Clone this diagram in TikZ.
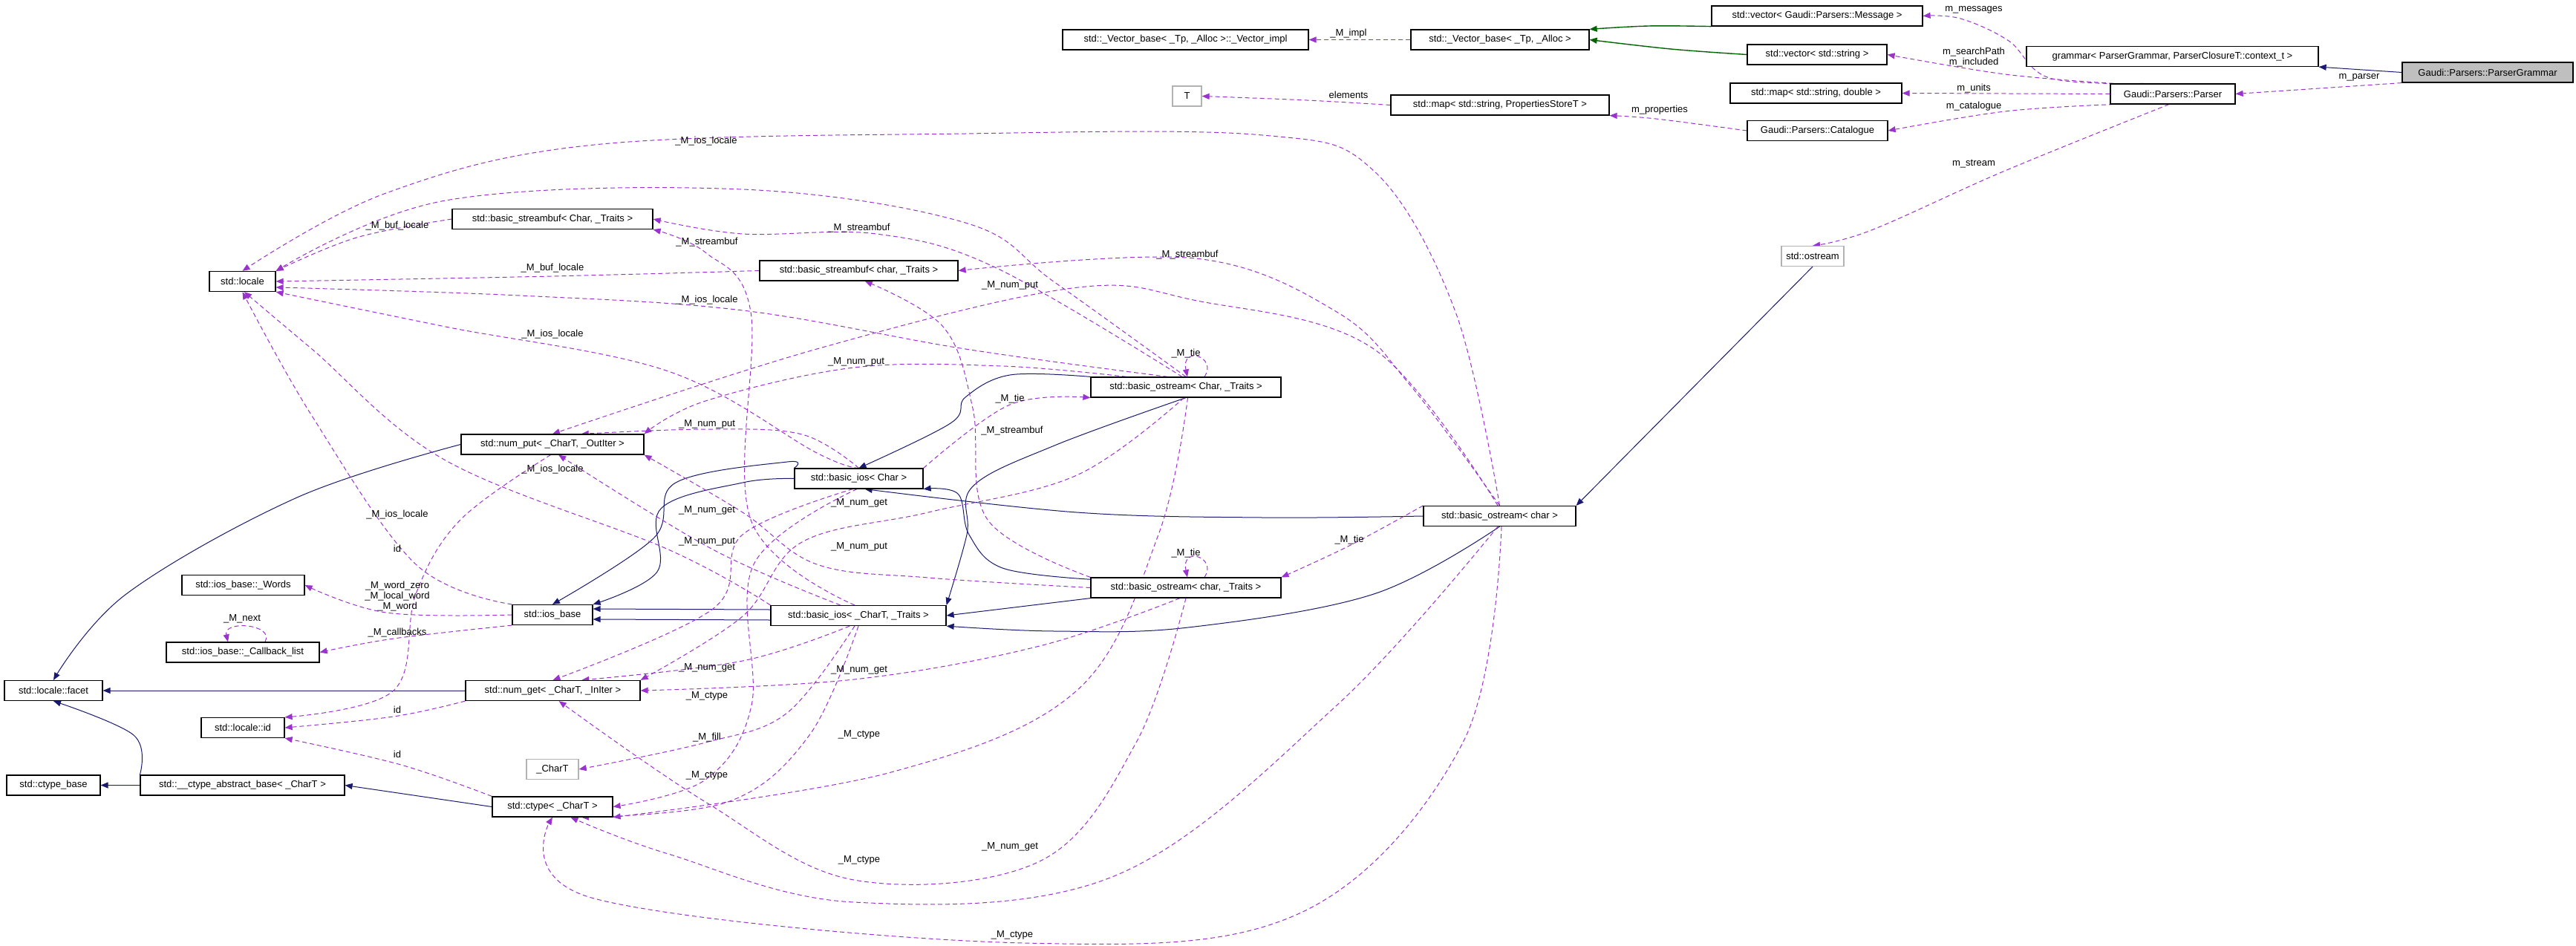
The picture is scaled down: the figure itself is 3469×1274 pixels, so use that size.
\documentclass[tikz,border=0pt]{standalone}
\usepackage{fontspec}
\setmainfont{Liberation Sans}
\usetikzlibrary{arrows.meta,calc,backgrounds}
\definecolor{dpurple}{RGB}{154,50,205}
\definecolor{dnavy}{RGB}{25,25,112}
\definecolor{dgreen}{RGB}{0,100,0}
\begin{document}
\begin{tikzpicture}[x=0.5pt,y=-0.5pt,
 box/.style={draw=black,line width=0.6pt,minimum height=13.5pt,inner sep=1pt,font=\fontsize{6.5}{7}\selectfont,fill=white},
 gbox/.style={box,draw=black!30},
 dep/.style={draw=dpurple,dash pattern=on 3pt off 2pt,line width=0.5pt,-{Triangle[length=5pt,width=4pt,fill=dpurple]}},
 inh/.style={draw=dnavy,line width=0.5pt,-{Triangle[length=5pt,width=4pt,fill=dnavy]}},
 tpl/.style={draw=dgreen,line width=0.7pt,-{Triangle[length=5pt,width=4pt,fill=dgreen]}},
 lbl/.style={font=\fontsize{6.5}{7}\selectfont,inner sep=0pt},
 sm/.style={smooth,tension=0.6}]
\useasboundingbox (0,0) rectangle (3469,1274);
% nodes
\node[box,fill=black!25,minimum width=115pt] (pg) at (3350,97.5) {Gaudi::Parsers::ParserGrammar};
\node[box,minimum width=196.5pt] (grammar) at (2925.5,76) {grammar< ParserGrammar, ParserClosureT::context\_t >};
\node[box,minimum width=84pt] (parser) at (2926,126.5) {Gaudi::Parsers::Parser};
\node[box,minimum width=142pt] (vmsg) at (2447,21.5) {std::vector< Gaudi::Parsers::Message >};
\node[box,minimum width=94pt] (vstr) at (2447,73.5) {std::vector< std::string >};
\node[box,minimum width=115.5pt] (mapd) at (2445.5,125.5) {std::map< std::string, double >};
\node[box,minimum width=94.5pt] (cat) at (2447.5,176) {Gaudi::Parsers::Catalogue};
\node[gbox,minimum width=42pt] (ostream) at (2441,345) {std::ostream};
\node[box,minimum width=120pt] (vbase) at (2020,53.5) {std::\_Vector\_base< \_Tp, \_Alloc >};
\node[box,minimum width=165.5pt] (vimpl) at (1596.5,53.5) {std::\_Vector\_base< \_Tp, \_Alloc >::\_Vector\_impl};
\node[box,minimum width=147pt] (mapp) at (2020,141.5) {std::map< std::string, PropertiesStoreT >};
\node[gbox,minimum width=19.5pt] (T) at (1598.5,129.5) {T};
\node[box,minimum width=44.5pt] (locale) at (326.5,379) {std::locale};
\node[box,minimum width=135pt] (sbChar) at (744,295) {std::basic\_streambuf< Char, \_Traits >};
\node[box,minimum width=133.5pt] (sbchar) at (1156.5,364.5) {std::basic\_streambuf< char, \_Traits >};
\node[box,minimum width=123pt] (numput) at (744,598.5) {std::num\_put< \_CharT, \_OutIter >};
\node[box,minimum width=86.5pt] (iosChar) at (1156.5,644.5) {std::basic\_ios< Char >};
\node[box,minimum width=128pt] (osCT) at (1597,521.5) {std::basic\_ostream< Char, \_Traits >};
\node[box,minimum width=102.5pt] (osc) at (2019.5,695) {std::basic\_ostream< char >};
\node[box,minimum width=128pt] (oscT) at (1597,791.5) {std::basic\_ostream< char, \_Traits >};
\node[box,minimum width=82.5pt] (words) at (327.5,788) {std::ios\_base::\_Words};
\node[box,minimum width=54pt] (iosbase) at (744,828) {std::ios\_base};
\node[box,minimum width=118pt] (iosCT) at (1156,829) {std::basic\_ios< \_CharT, \_Traits >};
\node[box,minimum width=103pt] (cb) at (327,878.5) {std::ios\_base::\_Callback\_list};
\node[box,minimum width=66pt] (facet) at (72,930) {std::locale::facet};
\node[box,minimum width=117.5pt] (numget) at (744.5,930) {std::num\_get< \_CharT, \_InIter >};
\node[box,minimum width=56pt] (lid) at (327,980) {std::locale::id};
\node[gbox,minimum width=35pt] (chart) at (744,1036) {\_CharT};
\node[box,minimum width=63pt] (ctb) at (72,1057.5) {std::ctype\_base};
\node[box,minimum width=137.5pt] (cab) at (326.5,1057.5) {std::\_\_ctype\_abstract\_base< \_CharT >};
\node[box,minimum width=81pt] (ctype) at (744,1086.5) {std::ctype< \_CharT >};

\begin{pgfonlayer}{background}
\fill[white] (0,0) rectangle (3469,1274);
% top right
\draw[inh] (pg.west) -- (grammar.south east);
\draw[dep] (pg.south west) -- (parser.east);
\draw[dep] plot[sm] coordinates {(parser.160) (2760,105) (2705,55) (2640,25) (vmsg.east)};
\draw[dep] plot[sm] coordinates {(parser.170) (2700,100) (vstr.east)};
\draw[dep] (parser.west) -- (mapd.east);
\draw[dep] plot[sm] coordinates {(parser.190) (2700,150) (cat.east)};
\draw[dep] plot[sm] coordinates {(parser.250) (2700,230) (2520,310) (ostream.north)};
\draw[dep] plot[sm] coordinates {(cat.west) (2230,160) (mapp.south east)};
\draw[dep] plot[sm] coordinates {(mapp.west) (1760,135) (T.east)};
\draw[dep] (vbase.west) -- (vimpl.east);
\draw[tpl] plot[sm] coordinates {(vmsg.south west) (2220,35) (vbase.north east)};
\draw[tpl] plot[sm] coordinates {(vstr.west) (2250,66) (vbase.east)};
\draw[inh] (ostream.south) -- (osc.north east);
% inheritance centre
\draw[inh] plot[sm] coordinates {(osCT.north west) (1360,505) (1300,535) (1280,570) (iosChar.north)};
\draw[inh] plot[sm] coordinates {(osCT.south) (1420,600) (1310,655) (1302,720) (iosCT.north east)};
\draw[inh] plot[sm] coordinates {(oscT.175) (1350,765) (1305,720) (1290,665) (iosChar.south east)};
\draw[inh] (oscT.south west) -- (iosCT.east);
\draw[inh] plot[sm] coordinates {(osc.west) (1700,697) (1450,690) (iosChar.-60)};
\draw[inh] plot[sm] coordinates {(osc.south) (1850,800) (1600,845) (1420,850) (iosCT.south east)};
\draw[inh] plot[sm] coordinates {(iosChar.north west) (1060,622) (910,650) (880,725) (iosbase.north)};
\draw[inh] plot[sm] coordinates {(iosChar.west) (1000,650) (890,685) (885,770) (iosbase.north east)};
\draw[inh] ([yshift=-3pt]iosCT.west) -- ([yshift=-3pt]iosbase.east);
\draw[inh] ([yshift=4pt]iosCT.west) -- ([yshift=4pt]iosbase.east);
\draw[inh] plot[sm] coordinates {(numput.west) (400,670) (170,800) (facet.north)};
\draw[inh] (numget.west) -- (facet.east);
\draw[inh] plot[sm] coordinates {(cab.north west) (180,990) (facet.south)};
\draw[inh] (cab.west) -- (ctb.east);
\draw[inh] (ctype.west) -- (cab.east);
% dependencies to locale
\draw[dep] plot[sm] coordinates {(osc.north) (1960,420) (1850,230) (1700,182) (1300,180) (800,195) (520,260) (locale.north)};
\draw[dep] plot[sm] coordinates {(osCT.north) (1420,380) (1300,300) (1000,255) (600,270) (locale.north east)};
\draw[dep] plot[sm] coordinates {(sbChar.west) (480,320) (locale.north east)};
\draw[dep] plot[sm] coordinates {(sbchar.west) (744,372) (locale.east)};
\draw[dep] plot[sm] coordinates {(osCT.150) (1300,470) (1000,418) (700,398) (locale.-10)};
\draw[dep] plot[sm] coordinates {(iosChar.north) (1100,610) (900,500) (600,440) (locale.south east)};
\draw[dep] plot[sm] coordinates {(iosCT.north west) (900,740) (600,620) (420,470) (locale.-80)};
\draw[dep] plot[sm] coordinates {(iosbase.north west) (560,760) (420,560) (locale.south)};
% streambuf
\draw[dep] plot[sm] coordinates {(iosCT.110) (1011,700) (1011,420) (950,340) (sbChar.south east)};
\draw[dep] plot[sm] coordinates {(osCT.110) (1340,360) (1180,315) (1000,315) (sbChar.east)};
\draw[dep] plot[sm] coordinates {(osc.north) (1900,520) (1800,420) (1610,348) (sbchar.east)};
\draw[dep] plot[sm] coordinates {(oscT.north west) (1330,700) (1310,550) (1270,440) (sbchar.-60)};
% num_put
\draw[dep] plot[sm] coordinates {(osc.100) (1850,470) (1612,405) (1444,388) (1100,470) (numput.north)};
\draw[dep] plot[sm] coordinates {(osCT.170) (1350,493) (1150,495) (950,540) (numput.north east)};
\draw[dep] plot[sm] coordinates {(iosChar.north) (1080,585) (952,578) (numput.20)};
\draw[dep] plot[sm] coordinates {(iosCT.150) (960,740) (numput.-60)};
\draw[dep] plot[sm] coordinates {(oscT.west) (1250,778) (1100,760) (1000,690) (numput.south east)};
% num_get
\draw[dep] plot[sm] coordinates {(osCT.-100) (1450,640) (1250,690) (1080,730) (1000,830) (numget.north east)};
\draw[dep] plot[sm] coordinates {(iosChar.-120) (1000,720) (960,820) (numget.north)};
\draw[dep] plot[sm] coordinates {(iosCT.-130) (1000,890) (numget.20)};
\draw[dep] plot[sm] coordinates {(oscT.-120) (1400,870) (1150,915) (numget.east)};
\draw[dep] plot[sm] coordinates {(oscT.south) (1530,1000) (1400,1160) (1150,1185) (950,1080) (numget.-60)};
% ctype and fill
\draw[dep] plot[sm] coordinates {(iosChar.-100) (1015,760) (1012,950) (950,1050) (ctype.east)};
\draw[dep] plot[sm] coordinates {(iosCT.-110) (1060,960) (950,1000) (chart.east)};
\draw[dep] plot[sm] coordinates {(iosCT.-90) (1090,990) (980,1080) (ctype.-20)};
\draw[dep] plot[sm] coordinates {(osCT.-80) (1560,720) (1450,930) (1200,1040) (ctype.south east)};
\draw[dep] plot[sm] coordinates {(osc.-100) (1800,950) (1500,1180) (1150,1215) (900,1150) (ctype.-30)};
\draw[dep] plot[sm] coordinates {(osc.-80) (1970,1000) (1750,1230) (1380,1270) (800,1210) (ctype.south)};
% tie
\draw[dep] plot[sm] coordinates {(iosChar.north east) (1360,545) (osCT.south west)};
\draw[dep] plot[sm] coordinates {(osc.north west) (1817,735) (oscT.north east)};
\draw[dep] ($(osCT.north)+(25,0)$) .. controls (1640,480) and (1590,465) .. ($(osCT.north)+(2,0)$);
\draw[dep] ($(oscT.north)+(25,0)$) .. controls (1640,750) and (1590,735) .. ($(oscT.north)+(2,0)$);
% ios_base members
\draw[dep] plot[sm] coordinates {(iosbase.west) (520,825) (words.east)};
\draw[dep] plot[sm] coordinates {(iosbase.south west) (530,860) (cb.east)};
\draw[dep] ($(cb.north)+(30,0)$) .. controls (370,840) and (300,835) .. ($(cb.north)+(-20,0)$);
% id
\draw[dep] plot[sm] coordinates {(numput.-100) (620,700) (560,800) (530,930) (lid.north east)};
\draw[dep] plot[sm] coordinates {(numget.south west) (530,965) (lid.east)};
\draw[dep] plot[sm] coordinates {(ctype.north west) (540,1030) (lid.south east)};
\end{pgfonlayer}
% labels
\node[lbl] at (3177,104) {m\_parser};
\node[lbl] at (2658,13) {m\_messages};
\node[lbl,align=center] at (2658,77) {m\_searchPath\\m\_included};
\node[lbl] at (2658,119) {m\_units};
\node[lbl] at (2658,143) {m\_catalogue};
\node[lbl] at (2658,221) {m\_stream};
\node[lbl] at (2235,148) {m\_properties};
\node[lbl] at (1816,128) {elements};
\node[lbl] at (1816,45) {\_M\_impl};
\node[lbl] at (951,190) {\_M\_ios\_locale};
\node[lbl] at (535,304) {\_M\_buf\_locale};
\node[lbl] at (744,361) {\_M\_buf\_locale};
\node[lbl] at (952,404) {\_M\_ios\_locale};
\node[lbl] at (744,450) {\_M\_ios\_locale};
\node[lbl] at (744,632) {\_M\_ios\_locale};
\node[lbl] at (535,693) {\_M\_ios\_locale};
\node[lbl] at (952,326) {\_M\_streambuf};
\node[lbl] at (1157,307) {\_M\_streambuf};
\node[lbl] at (1599,343) {\_M\_streambuf};
\node[lbl] at (1363,580) {\_M\_streambuf};
\node[lbl] at (1360,384) {\_M\_num\_put};
\node[lbl] at (1153,487) {\_M\_num\_put};
\node[lbl] at (952,571) {\_M\_num\_put};
\node[lbl] at (952,729) {\_M\_num\_put};
\node[lbl] at (1157,736) {\_M\_num\_put};
\node[lbl] at (1157,677) {\_M\_num\_get};
\node[lbl] at (952,687) {\_M\_num\_get};
\node[lbl] at (952,899) {\_M\_num\_get};
\node[lbl] at (1157,902) {\_M\_num\_get};
\node[lbl] at (1360,1140) {\_M\_num\_get};
\node[lbl] at (952,937) {\_M\_ctype};
\node[lbl] at (1157,989) {\_M\_ctype};
\node[lbl] at (952,1044) {\_M\_ctype};
\node[lbl] at (1157,1158) {\_M\_ctype};
\node[lbl] at (1363,1259) {\_M\_ctype};
\node[lbl] at (952,993) {\_M\_fill};
\node[lbl] at (1597,476) {\_M\_tie};
\node[lbl] at (1597,745) {\_M\_tie};
\node[lbl] at (1360,537) {\_M\_tie};
\node[lbl] at (1817,727) {\_M\_tie};
\node[lbl] at (535,739) {id};
\node[lbl] at (535,956) {id};
\node[lbl] at (535,1016) {id};
\node[lbl,align=center] at (535,803) {\_M\_word\_zero\\\_M\_local\_word\\\_M\_word};
\node[lbl] at (326,833) {\_M\_next};
\node[lbl] at (535,852) {\_M\_callbacks};
\end{tikzpicture}
\end{document}
